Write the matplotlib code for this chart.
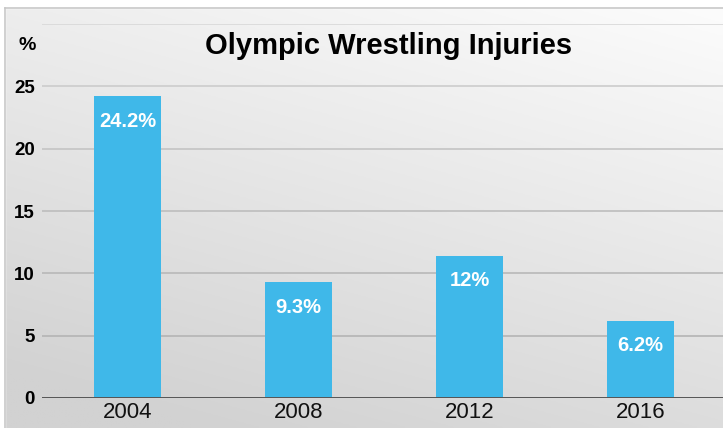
import matplotlib.pyplot as plt
import numpy as np

plt.rcParams['font.family'] = ['Liberation Sans', 'DejaVu Sans']

years = ['2004', '2008', '2012', '2016']
values = [24.2, 9.3, 11.4, 6.2]
bar_labels = ['24.2%', '9.3%', '12%', '6.2%']
yticks = [0, 5, 10, 15, 20, 25]
title = 'Olympic Wrestling Injuries'

W, H = 723, 428
fig = plt.figure(figsize=(W / 100, H / 100), dpi=100)

# background gradient
bg = fig.add_axes([0, 0, 1, 1])
bg.set_xlim(0, W)
bg.set_ylim(H, 0)
bg.axis('off')
yy, xx = np.mgrid[0:1:200j, 0:1:300j]
t = np.clip((1 - xx) * 0.35 + yy * 0.75, 0, 1)
img = 252 - 42 * t
rgb = np.dstack([img, img, img]) / 255.0
bg.imshow(rgb, extent=[5, W, H, 8], aspect='auto', zorder=0)
bg.fill_between([0, W], 0, 8, color='white', zorder=1)
bg.fill_between([0, 5], 0, H, color='white', zorder=1)
bg.plot([5, W], [8, 8], color='#c8c8c8', lw=1.2, zorder=2)
bg.plot([5, 5], [8, H], color='#c8c8c8', lw=1.2, zorder=2)

ax = fig.add_axes([42 / W, (H - 398) / H, 684 / W, (398 - 24) / H])
ax.set_facecolor('none')
ax.set_xlim(-0.5, 3.5)
ax.set_ylim(0, 30)
for s in ax.spines.values():
    s.set_visible(False)

grid_colors = {5: '#b4b4b4', 10: '#b8b8b8', 15: '#bdbdbd', 20: '#c4c4c4',
               25: '#cccccc', 30: '#d8d8d8'}
for g, c in grid_colors.items():
    ax.axhline(g, color=c, lw=1.2, zorder=1)
ax.axhline(0, color='#555555', lw=1.4, zorder=3)

x = np.arange(len(years))
bars = ax.bar(x, values, width=0.39, color='#3fb8e9', zorder=2)
for xi, v, lab in zip(x, values, bar_labels):
    ax.annotate(lab, (xi, v), xytext=(0, -18), textcoords='offset points',
                ha='center', va='center', color='white', fontsize=14.5,
                fontweight='bold', zorder=4)

ax.set_xticks(x)
ax.set_xticklabels(years, fontsize=16, color='#111111')
ax.set_yticks(yticks)
ax.set_yticklabels([str(v) for v in yticks], fontsize=13.5, fontweight='bold')
ax.tick_params(axis='both', length=0)
ax.tick_params(axis='y', pad=5)
ax.tick_params(axis='x', pad=3)

fig.text(27.5 / W, 1 - 45 / H, '%', ha='center', va='center',
         fontsize=14, fontweight='bold')
fig.text(388.5 / W, 1 - 54 / H, title, ha='center', va='baseline',
         fontsize=21, fontweight='bold')

fig.savefig('out.png', dpi=100)
